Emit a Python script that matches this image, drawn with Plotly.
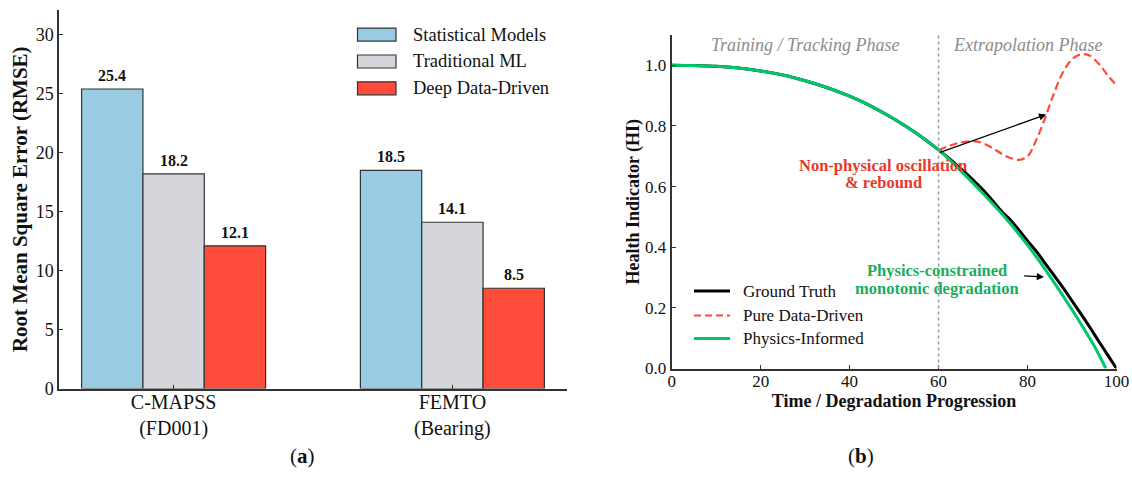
import plotly.graph_objects as go

# ---------------- data: panel (a) ----------------
datasets = ["C-MAPSS<br>(FD001)", "FEMTO<br>(Bearing)"]
model_names = ["Statistical Models", "Traditional ML", "Deep Data-Driven"]
rmse_statistical = [25.4, 18.5]
rmse_traditional = [18.2, 14.1]
rmse_deep = [12.1, 8.5]
bar_colors = ["#99cce3", "#d4d6db", "#ff4b3a"]

# ---------------- data: panel (b) ----------------
t_truth = [0, 5, 10, 15, 20, 25, 30, 35, 40, 45, 50, 55, 60, 62, 64, 66, 68, 70,
           72, 74, 76, 78, 80, 82, 84, 86, 88, 90, 92, 94, 96, 98, 100]
hi_truth = [1.000, 0.999, 0.997, 0.991, 0.981, 0.968, 0.949, 0.926, 0.898, 0.864,
            0.823, 0.776, 0.721, 0.697, 0.672, 0.646, 0.618, 0.589, 0.556, 0.521,
            0.492, 0.458, 0.421, 0.386, 0.346, 0.306, 0.266, 0.223, 0.180, 0.136,
            0.090, 0.045, 0.000]

t_data = [60, 62, 64, 66, 68, 70, 72, 74, 76, 78, 80, 82, 84, 86, 88, 90, 92, 94,
          96, 98, 100]
hi_data = [0.720, 0.732, 0.742, 0.748, 0.750, 0.743, 0.728, 0.710, 0.695, 0.688,
           0.700, 0.755, 0.828, 0.910, 0.978, 1.020, 1.036, 1.032, 1.005, 0.968,
           0.933]

t_phys = [0, 5, 10, 15, 20, 25, 30, 35, 40, 45, 50, 55, 60, 65, 70, 75, 80, 85,
          90, 95, 97.6]
hi_phys = [1.000, 0.999, 0.997, 0.991, 0.981, 0.968, 0.949, 0.926, 0.898, 0.864,
           0.823, 0.776, 0.721, 0.652, 0.577, 0.497, 0.407, 0.305, 0.194, 0.074,
           0.000]

PHASE_SPLIT = 60
line_names = ["Ground Truth", "Pure Data-Driven", "Physics-Informed"]

FONT = "Liberation Serif"
W, H = 1132, 482
AX = "#333333"

fig = go.Figure()

# ---------------- panel (a): grouped bars ----------------
for name, vals, col in zip(model_names,
                           [rmse_statistical, rmse_traditional, rmse_deep],
                           bar_colors):
    fig.add_trace(go.Bar(
        x=datasets, y=vals, name=name, marker=dict(color=col, line=dict(color=AX, width=1.2)),
        xaxis="x", yaxis="y", showlegend=False, hoverinfo="x+y+name"))

BAR_W = 0.22
annotations = []
for k, vals in enumerate([rmse_statistical, rmse_traditional, rmse_deep]):
    for i, v in enumerate(vals):
        annotations.append(dict(
            x=i + (k - 1) * BAR_W, y=v, xref="x", yref="y", text=f"<b>{v:.1f}</b>",
            showarrow=False, yanchor="bottom", yshift=3,
            font=dict(family=FONT, size=16, color="#111")))

# ---------------- panel (b): HI curves ----------------
fig.add_trace(go.Scatter(x=t_truth, y=hi_truth, name=line_names[0], mode="lines",
                         line=dict(color="#000000", width=3, shape="spline"),
                         xaxis="x2", yaxis="y2", showlegend=False))
fig.add_trace(go.Scatter(x=t_data, y=hi_data, name=line_names[1], mode="lines",
                         line=dict(color="#ff4b3a", width=2.2, dash="8px,4px", shape="spline"),
                         xaxis="x2", yaxis="y2", showlegend=False))
fig.add_trace(go.Scatter(x=t_phys, y=hi_phys, name=line_names[2], mode="lines",
                         line=dict(color="#00c86a", width=3, shape="spline"),
                         xaxis="x2", yaxis="y2", showlegend=False))

shapes = [dict(type="line", xref="x2", yref="y2", x0=PHASE_SPLIT, x1=PHASE_SPLIT,
               y0=0, y1=1.1, line=dict(color="#999999", width=1.5, dash="dot"))]

def px(x):
    return x / W

def py(y):
    return 1 - y / H

# custom legend (a)
leg_rows_a = [34.6, 61.5, 88.3]
for name, col, yy in zip(model_names, bar_colors, leg_rows_a):
    shapes.append(dict(type="rect", xref="paper", yref="paper",
                       x0=px(357.5), x1=px(396), y0=py(yy + 6.5), y1=py(yy - 6.5),
                       fillcolor=col, line=dict(color=AX, width=1.2)))
    annotations.append(dict(x=px(411), y=py(yy), xref="paper", yref="paper", text=name,
                            showarrow=False, xanchor="left", yanchor="middle",
                            font=dict(family=FONT, size=18.5, color="#111")))

# custom legend (b)
leg_rows_b = [291, 315.5, 338.5]
leg_styles = [dict(color="#000000", width=3), dict(color="#ff4b3a", width=2.2, dash="7px,4px"),
              dict(color="#00c86a", width=3)]
for name, st, yy in zip(line_names, leg_styles, leg_rows_b):
    shapes.append(dict(type="line", xref="paper", yref="paper",
                       x0=px(694), x1=px(730), y0=py(yy), y1=py(yy), line=st))
    annotations.append(dict(x=px(741), y=py(yy), xref="paper", yref="paper", text=name,
                            showarrow=False, xanchor="left", yanchor="middle",
                            font=dict(family=FONT, size=17, color="#111")))

# phase labels
annotations += [
    dict(x=30, y=1.068, xref="x2", yref="y2", text="<i>Training / Tracking Phase</i>",
         showarrow=False, font=dict(family=FONT, size=18, color="#8c8c8c")),
    dict(x=80, y=1.068, xref="x2", yref="y2", text="<i>Extrapolation Phase</i>",
         showarrow=False, font=dict(family=FONT, size=18, color="#8c8c8c")),
    dict(x=47.6, y=0.670, xref="x2", yref="y2", text="<b>Non-physical oscillation</b>",
         showarrow=False, font=dict(family=FONT, size=16.5, color="#e8392c")),
    dict(x=47.6, y=0.614, xref="x2", yref="y2", text="<b>&amp; rebound</b>",
         showarrow=False, font=dict(family=FONT, size=16.5, color="#e8392c")),
    dict(x=59.6, y=0.323, xref="x2", yref="y2", text="<b>Physics-constrained</b>",
         showarrow=False, font=dict(family=FONT, size=16.5, color="#1aae5c")),
    dict(x=59.6, y=0.265, xref="x2", yref="y2", text="<b>monotonic degradation</b>",
         showarrow=False, font=dict(family=FONT, size=16.5, color="#1aae5c")),
    dict(x=84.2, y=0.838, ax=60, ay=0.711, xref="x2", yref="y2", axref="x2", ayref="y2",
         text="", showarrow=True, arrowhead=2, arrowsize=1.2, arrowwidth=1.2, arrowcolor="#000"),
    dict(x=83.7, y=0.302, ax=78.9, ay=0.306, xref="x2", yref="y2", axref="x2", ayref="y2",
         text="", showarrow=True, arrowhead=2, arrowsize=1.2, arrowwidth=1.2, arrowcolor="#000"),
    # panel labels
    dict(x=px(288), y=py(470), xref="paper", yref="paper", text="(<b>a</b>)",
         showarrow=False, font=dict(family=FONT, size=21, color="#111")),
    dict(x=px(876), y=py(470), xref="paper", yref="paper", text="(<b>b</b>)",
         showarrow=False, font=dict(family=FONT, size=21, color="#111")),
]

axis_common = dict(showline=True, linecolor=AX, linewidth=2, ticks="inside", ticklen=4,
                   tickwidth=1.2, tickcolor=AX, showgrid=False, zeroline=False, mirror=False,
                   automargin=False, ticklabeloverflow="allow")

fig.update_layout(
    width=W, height=H, autosize=False,
    margin=dict(l=0, r=0, t=0, b=0, autoexpand=False),
    paper_bgcolor="white", plot_bgcolor="white",
    font=dict(family=FONT, color="#111"),
    barmode="group", bargap=0.34, bargroupgap=0,
    xaxis=dict(domain=[px(59.3), px(566.7)], range=[-0.41, 1.41], anchor="y",
               tickfont=dict(size=20), ticklabelstandoff=-6, **axis_common),
    yaxis=dict(domain=[py(388.5), py(10)], range=[0, 32.1], anchor="x",
               tickmode="linear", tick0=0, dtick=5, tickfont=dict(size=18),
               title=dict(text="<b>Root Mean Square Error (RMSE)</b>",
                          font=dict(size=21), standoff=2), **axis_common),
    xaxis2=dict(domain=[px(671.7), px(1116.5)], range=[0, 100], anchor="y2",
                tickmode="array", tickvals=[0, 20, 40, 60, 80, 100], tickfont=dict(size=17),
                ticklabelstandoff=-4,
                title=dict(text="<b>Time / Degradation Progression</b>",
                           font=dict(size=18), standoff=2), **axis_common),
    yaxis2=dict(domain=[py(368.5), py(35)], range=[0, 1.1], anchor="x2",
                tickmode="array", tickvals=[0, 0.2, 0.4, 0.6, 0.8, 1.0], tickformat=".1f",
                tickfont=dict(size=17),
                title=dict(text="<b>Health Indicator (HI)</b>", font=dict(size=18), standoff=1),
                **axis_common),
    shapes=shapes,
    annotations=annotations,
)

fig.write_html("out.html", config={"displayModeBar": False},
               post_script="document.body.style.margin='0';")
